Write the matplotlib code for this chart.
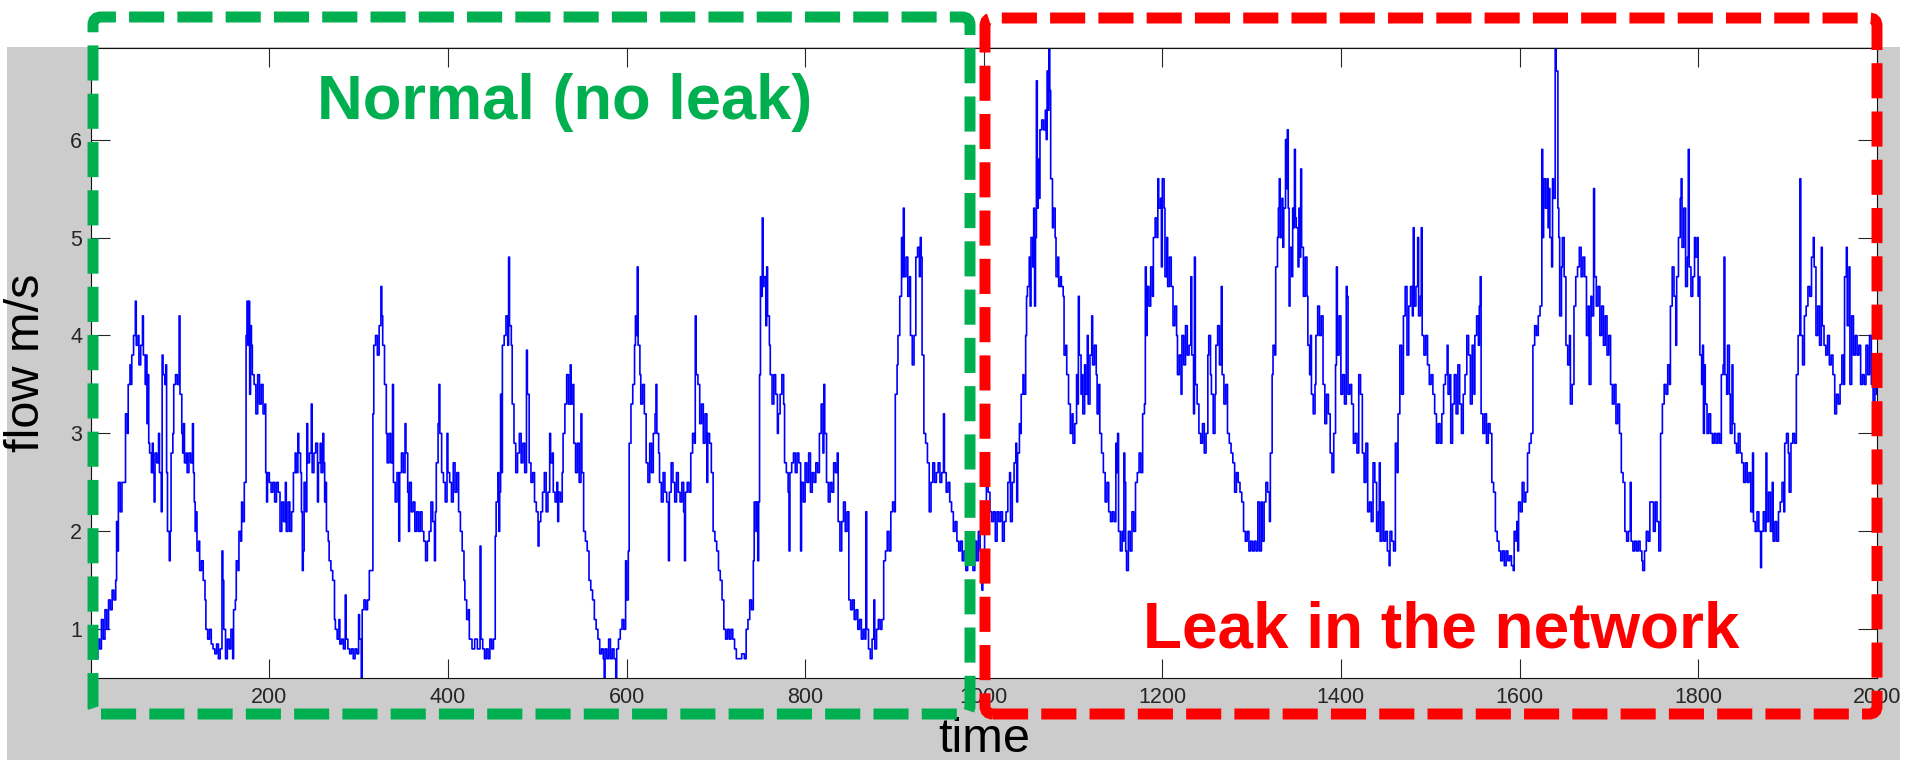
import numpy as np
import matplotlib
matplotlib.use('Agg')
import matplotlib.pyplot as plt
from matplotlib.patches import Rectangle, FancyBboxPatch

# flow readings [time, flow m/s]
normal_flow = [
    [0, 0.8], [3, 1.0], [5, 0.7], [8, 0.9], [10, 0.8], [12, 1.1], [14, 0.9], [16, 1.2], [18, 1.0], [20, 1.3],
    [22, 1.2], [24, 1.4], [26, 1.3], [28, 1.5], [29, 2.1], [30, 1.8], [31, 2.5], [33, 2.2], [35, 2.5], [39, 3.2],
    [41, 3.0], [42, 3.5], [44, 3.7], [45, 3.5], [46, 3.8], [48, 4.0], [50, 4.35], [51, 3.9], [53, 4.0], [54, 3.7],
    [56, 3.9], [58, 4.2], [59, 3.8], [61, 3.5], [62, 3.8], [63, 3.1], [64, 3.6], [65, 2.9], [66, 2.8], [68, 2.6],
    [69, 2.9], [70, 2.6], [71, 2.3], [72, 2.8], [74, 2.7], [76, 3.0], [77, 2.6], [79, 2.2], [80, 3.8], [81, 3.6],
    [83, 3.5], [84, 3.7], [85, 2.6], [86, 2.0], [88, 1.7], [89, 2.0], [90, 2.8], [92, 3.0], [93, 3.5], [95, 3.6],
    [97, 3.5], [99, 4.2], [100, 3.4], [102, 3.0], [103, 2.8], [104, 3.1], [105, 2.7], [107, 2.8], [108, 2.6], [110, 2.8],
    [112, 2.7], [114, 3.1], [115, 2.6], [116, 2.3], [117, 2.0], [118, 2.2], [119, 1.8], [121, 1.9], [122, 1.6], [124, 1.7],
    [126, 1.5], [128, 1.3], [129, 1.0], [131, 0.9], [133, 1.0], [135, 0.85], [137, 0.8], [139, 0.75], [141, 0.85], [143, 0.7],
    [145, 0.8], [147, 1.8], [148, 1.5], [149, 1.0], [151, 0.7], [153, 0.9], [155, 0.8], [157, 1.0], [159, 0.7], [160, 1.2],
    [162, 1.3], [163, 1.7], [165, 1.6], [166, 2.0], [168, 1.9], [169, 2.3], [170, 2.1], [172, 2.5], [174, 4.0], [175, 4.35],
    [176, 3.9], [177, 4.35], [178, 3.4], [179, 4.1], [180, 3.9], [181, 3.6], [183, 3.5], [185, 3.2], [187, 3.6], [189, 3.3],
    [191, 3.5], [193, 3.2], [195, 3.3], [196, 2.6], [197, 2.3], [198, 2.6], [200, 2.5], [202, 2.4], [204, 2.5], [206, 2.3],
    [208, 2.5], [210, 2.4], [212, 2.0], [214, 2.3], [216, 2.1], [218, 2.5], [219, 2.0], [221, 2.3], [223, 2.0], [225, 2.2],
    [227, 2.6], [229, 2.8], [230, 2.6], [232, 3.0], [233, 2.8], [235, 2.6], [236, 2.2], [237, 1.6], [238, 1.8], [239, 2.5],
    [241, 2.2], [242, 3.1], [243, 2.7], [245, 2.8], [247, 3.3], [248, 2.6], [250, 2.8], [252, 2.9], [254, 2.3], [255, 2.7],
    [257, 2.9], [258, 2.6], [260, 3.0], [261, 2.7], [262, 2.3], [263, 2.5], [264, 2.0], [266, 1.9], [267, 1.7], [269, 1.6],
    [271, 1.5], [273, 1.1], [274, 1.0], [276, 0.9], [278, 1.1], [279, 0.85], [281, 0.9], [283, 0.8], [285, 1.35], [286, 0.9],
    [288, 0.8], [290, 0.75], [292, 0.8], [294, 0.7], [296, 0.8], [298, 0.75], [300, 1.15], [301, 0.9], [303, 0.5], [304, 1.2],
    [306, 1.3], [308, 1.2], [310, 1.3], [312, 1.6], [314, 1.6], [316, 3.2], [317, 3.9], [319, 4.0], [321, 3.8], [323, 4.1],
    [325, 4.5], [326, 4.2], [327, 3.9], [329, 3.5], [331, 3.0], [332, 2.7], [334, 3.0], [336, 2.7], [338, 3.5], [339, 2.5],
    [341, 2.3], [343, 2.6], [345, 1.9], [346, 2.6], [348, 2.8], [350, 2.6], [352, 3.1], [353, 2.8], [355, 2.4], [356, 2.0],
    [357, 2.5], [359, 2.2], [361, 2.3], [363, 2.0], [365, 2.2], [367, 2.0], [369, 2.2], [371, 2.0], [373, 1.9], [375, 1.7],
    [377, 1.9], [379, 2.0], [381, 2.3], [383, 2.1], [385, 1.7], [386, 2.2], [387, 2.7], [389, 3.1], [390, 3.5], [391, 3.0],
    [393, 2.6], [395, 2.5], [397, 2.3], [399, 3.0], [400, 2.6], [402, 2.5], [404, 2.3], [406, 2.7], [408, 2.4], [410, 2.6],
    [412, 2.2], [414, 2.0], [416, 1.8], [418, 1.5], [419, 1.3], [421, 1.1], [423, 1.2], [424, 0.9], [427, 0.8], [430, 0.9],
    [433, 0.8], [436, 1.85], [437, 0.9], [439, 0.8], [441, 0.7], [443, 0.8], [445, 0.7], [447, 0.9], [449, 0.8], [451, 0.9],
    [453, 1.95], [454, 2.3], [456, 2.6], [457, 2.0], [458, 2.4], [459, 3.4], [460, 2.6], [461, 3.9], [463, 4.0], [465, 4.2],
    [467, 3.9], [468, 4.8], [469, 4.1], [471, 3.9], [472, 3.3], [474, 2.9], [476, 2.6], [478, 2.8], [480, 3.0], [482, 2.7],
    [484, 2.9], [486, 2.6], [488, 3.85], [489, 3.4], [491, 2.7], [493, 2.5], [495, 2.6], [497, 2.3], [499, 2.2], [501, 1.85],
    [502, 2.1], [504, 2.2], [506, 2.4], [508, 2.6], [510, 2.2], [512, 2.4], [514, 3.0], [515, 2.7], [517, 2.8], [518, 2.4],
    [520, 2.3], [522, 2.5], [523, 2.1], [524, 2.4], [526, 2.3], [528, 2.6], [529, 3.0], [531, 3.3], [533, 3.6], [535, 3.3],
    [537, 3.7], [538, 3.3], [540, 3.5], [541, 2.9], [543, 2.6], [545, 2.9], [547, 2.5], [549, 3.2], [550, 2.6], [552, 2.0],
    [554, 1.9], [556, 1.8], [558, 1.5], [560, 1.4], [562, 1.3], [564, 1.1], [566, 1.0], [568, 0.9], [570, 0.75], [572, 0.8],
    [574, 0.7], [575, 0.5], [576, 0.8], [578, 0.7], [580, 0.9], [582, 0.7], [584, 0.8], [586, 0.7], [588, 0.5], [589, 0.8],
    [591, 0.9], [593, 1.0], [595, 1.1], [597, 1.0], [599, 1.7], [600, 1.3], [602, 1.8], [603, 2.9], [605, 3.3], [607, 3.5],
    [609, 3.9], [610, 4.2], [611, 4.0], [612, 4.7], [613, 3.9], [615, 3.6], [616, 3.3], [618, 3.5], [620, 3.2], [622, 2.7],
    [624, 2.5], [626, 2.9], [628, 2.6], [630, 3.0], [632, 3.2], [633, 3.5], [634, 3.0], [636, 2.8], [637, 2.5], [639, 2.3],
    [641, 2.6], [643, 2.4], [645, 2.3], [647, 1.7], [648, 2.4], [650, 2.7], [652, 2.5], [654, 2.3], [656, 2.6], [658, 2.4],
    [660, 2.3], [662, 2.5], [664, 2.2], [665, 1.7], [666, 2.4], [668, 2.5], [670, 2.4], [672, 2.8], [674, 3.0], [676, 2.9],
    [677, 4.2], [678, 3.6], [680, 3.5], [682, 3.1], [684, 3.3], [686, 2.9], [688, 3.2], [690, 2.5], [691, 3.0], [693, 2.9],
    [695, 2.6], [697, 2.0], [699, 1.9], [701, 1.8], [703, 1.6], [705, 1.5], [707, 1.3], [709, 1.0], [711, 0.9], [713, 1.0],
    [715, 0.9], [717, 1.0], [719, 0.9], [721, 0.8], [723, 0.7], [726, 0.7], [729, 0.75], [732, 0.7], [734, 1.0], [736, 1.1],
    [738, 1.3], [740, 1.2], [742, 1.7], [743, 2.3], [745, 2.0], [746, 2.3], [747, 1.7], [748, 2.3], [749, 3.6], [750, 4.6],
    [751, 4.4], [752, 5.2], [753, 4.5], [754, 4.6], [756, 4.1], [757, 4.7], [758, 4.2], [760, 3.9], [761, 3.6], [763, 3.3],
    [765, 3.6], [767, 3.4], [769, 3.0], [770, 3.2], [772, 3.4], [774, 3.6], [776, 3.3], [777, 2.7], [779, 2.6], [781, 2.4],
    [782, 1.8], [783, 2.6], [785, 2.7], [787, 2.8], [789, 2.6], [791, 2.8], [793, 2.7], [795, 1.8], [796, 2.5], [798, 2.3],
    [800, 2.7], [802, 2.5], [804, 2.8], [806, 2.4], [808, 2.6], [810, 2.5], [812, 2.7], [814, 2.6], [816, 3.0], [818, 3.3],
    [820, 2.8], [821, 3.5], [822, 3.0], [824, 2.5], [826, 2.3], [828, 2.5], [830, 2.4], [832, 2.7], [834, 2.6], [836, 2.8],
    [837, 2.1], [839, 1.8], [841, 2.1], [843, 2.3], [845, 2.0], [847, 2.2], [849, 1.3], [851, 1.2], [853, 1.3], [855, 1.1],
    [857, 1.2], [859, 1.0], [861, 1.1], [863, 0.9], [865, 1.0], [867, 0.9], [868, 2.2], [869, 1.0], [871, 0.8], [873, 0.7],
    [875, 0.9], [877, 1.3], [878, 0.8], [880, 1.0], [882, 1.1], [884, 1.0], [886, 1.1], [888, 1.7], [890, 1.8], [892, 2.0],
    [894, 1.8], [896, 2.2], [898, 2.3], [900, 2.2], [901, 3.4], [903, 3.7], [904, 4.0], [906, 4.4], [908, 5.0], [909, 4.6],
    [910, 5.3], [911, 4.6], [913, 4.8], [915, 4.4], [917, 4.6], [918, 4.0], [920, 3.7], [922, 4.0], [924, 4.8], [926, 4.9],
    [928, 4.6], [929, 5.0], [930, 4.8], [931, 3.8], [933, 3.0], [935, 2.9], [937, 2.7], [939, 2.2], [941, 2.5], [943, 2.7],
    [945, 2.5], [947, 2.6], [949, 2.7], [951, 2.5], [953, 2.6], [955, 3.2], [956, 2.6], [958, 2.4], [960, 2.5], [962, 2.3],
    [964, 2.2], [966, 2.0], [968, 2.1], [970, 1.9], [972, 1.8], [974, 1.9], [976, 1.7], [978, 1.8], [980, 1.6], [982, 1.7],
    [984, 1.9], [986, 1.8], [988, 1.6], [990, 1.9], [992, 1.7], [994, 2.0], [996, 1.8], [998, 1.4], [999, 1.8],
]

leak_flow = [
    [1001, 2.3], [1003, 2.6], [1005, 2.4], [1007, 2.2], [1009, 2.1], [1011, 2.2], [1013, 1.9], [1015, 2.2], [1017, 2.1], [1019, 2.2],
    [1021, 1.9], [1023, 2.1], [1025, 2.2], [1027, 2.5], [1029, 2.6], [1030, 2.1], [1032, 2.5], [1034, 2.7], [1036, 2.9], [1037, 2.3],
    [1038, 2.8], [1040, 3.1], [1041, 3.0], [1042, 3.4], [1044, 3.6], [1045, 3.4], [1047, 4.0], [1048, 4.4], [1049, 4.5], [1051, 4.8],
    [1052, 4.3], [1053, 5.0], [1055, 4.7], [1056, 5.3], [1057, 4.3], [1058, 5.0], [1059, 6.6], [1060, 5.3], [1061, 5.8], [1062, 5.4],
    [1063, 6.1], [1065, 6.2], [1067, 6.1], [1069, 6.3], [1070, 6.0], [1071, 6.7], [1072, 6.3], [1073, 6.93], [1074, 6.5], [1075, 5.6],
    [1077, 5.1], [1078, 5.3], [1080, 5.0], [1081, 4.6], [1083, 4.8], [1084, 4.5], [1086, 4.6], [1087, 4.5], [1089, 4.4], [1090, 3.8],
    [1092, 3.9], [1093, 3.6], [1095, 3.3], [1097, 3.0], [1099, 3.2], [1100, 2.9], [1102, 3.1], [1104, 3.6], [1105, 3.3], [1106, 4.4],
    [1107, 3.8], [1109, 3.4], [1110, 3.6], [1111, 3.2], [1113, 3.7], [1114, 3.4], [1116, 4.0], [1117, 3.3], [1119, 3.8], [1121, 4.2],
    [1122, 3.7], [1124, 3.9], [1126, 3.6], [1127, 3.2], [1129, 3.5], [1130, 3.0], [1132, 2.8], [1134, 2.6], [1136, 2.3], [1138, 2.5],
    [1140, 2.2], [1142, 2.1], [1144, 2.2], [1146, 2.1], [1148, 2.9], [1149, 2.6], [1150, 3.0], [1151, 2.0], [1153, 1.8], [1155, 2.0],
    [1156, 1.9], [1157, 2.8], [1158, 2.5], [1159, 1.8], [1160, 1.6], [1162, 2.0], [1164, 1.8], [1166, 2.2], [1168, 2.0], [1170, 2.5],
    [1172, 2.6], [1174, 2.8], [1176, 2.6], [1178, 3.2], [1180, 3.3], [1181, 4.7], [1182, 4.0], [1183, 4.5], [1185, 4.3], [1187, 4.7],
    [1189, 4.4], [1190, 5.0], [1192, 5.2], [1194, 5.0], [1195, 5.6], [1196, 5.3], [1198, 5.4], [1199, 4.7], [1200, 5.6], [1202, 5.3],
    [1203, 4.6], [1205, 5.0], [1206, 4.5], [1208, 4.8], [1210, 4.5], [1212, 4.1], [1214, 4.3], [1216, 4.0], [1217, 3.6], [1219, 3.8],
    [1221, 3.4], [1222, 4.0], [1224, 3.7], [1226, 4.1], [1228, 3.8], [1230, 3.9], [1232, 4.6], [1233, 3.8], [1235, 3.2], [1236, 4.8],
    [1237, 3.5], [1239, 3.3], [1241, 3.0], [1243, 2.9], [1245, 3.1], [1247, 2.8], [1249, 3.0], [1251, 3.8], [1252, 4.0], [1254, 3.6],
    [1255, 3.4], [1257, 3.0], [1259, 3.4], [1260, 3.9], [1262, 4.1], [1264, 3.7], [1266, 4.5], [1267, 3.6], [1269, 3.3], [1271, 3.5],
    [1273, 3.0], [1275, 2.9], [1277, 2.8], [1279, 2.7], [1281, 2.4], [1283, 2.6], [1285, 2.5], [1287, 2.4], [1289, 2.3], [1291, 2.0],
    [1293, 1.9], [1295, 2.0], [1297, 1.8], [1299, 1.9], [1301, 1.8], [1303, 1.9], [1305, 1.8], [1307, 2.3], [1309, 1.8], [1311, 2.3],
    [1312, 1.9], [1314, 2.3], [1316, 2.5], [1318, 2.4], [1320, 2.1], [1321, 2.8], [1323, 3.6], [1324, 3.9], [1326, 3.8], [1327, 4.7],
    [1329, 5.0], [1330, 5.3], [1331, 5.6], [1332, 5.0], [1334, 5.4], [1335, 4.9], [1336, 5.3], [1338, 6.0], [1339, 5.5], [1340, 6.1],
    [1341, 5.3], [1342, 4.3], [1343, 4.9], [1345, 4.6], [1346, 5.3], [1347, 5.1], [1348, 5.9], [1349, 5.2], [1350, 5.1], [1352, 4.7],
    [1353, 5.3], [1354, 4.8], [1355, 5.7], [1356, 4.9], [1358, 4.4], [1360, 4.8], [1362, 4.4], [1363, 3.9], [1365, 3.6], [1366, 4.0],
    [1367, 3.4], [1369, 3.2], [1371, 3.5], [1372, 4.0], [1374, 4.3], [1376, 4.0], [1378, 4.2], [1380, 3.5], [1382, 3.1], [1384, 3.4],
    [1386, 3.2], [1388, 2.8], [1390, 2.6], [1392, 3.0], [1394, 3.7], [1395, 4.7], [1396, 3.8], [1398, 4.2], [1400, 3.4], [1402, 3.6],
    [1404, 3.3], [1406, 4.5], [1407, 4.4], [1408, 3.4], [1410, 3.5], [1412, 3.3], [1414, 2.9], [1416, 3.0], [1418, 2.8], [1420, 3.6],
    [1422, 3.4], [1424, 2.8], [1426, 2.5], [1428, 2.9], [1430, 2.2], [1432, 2.3], [1434, 2.1], [1436, 2.7], [1438, 2.5], [1440, 2.0],
    [1442, 2.2], [1443, 2.7], [1444, 1.9], [1446, 2.3], [1448, 1.9], [1450, 2.0], [1452, 1.8], [1454, 1.65], [1455, 2.0], [1457, 1.9],
    [1459, 1.8], [1461, 2.9], [1463, 2.6], [1464, 3.2], [1466, 3.9], [1468, 3.4], [1470, 4.2], [1472, 4.5], [1474, 3.8], [1476, 4.3],
    [1478, 4.5], [1480, 4.2], [1481, 5.1], [1482, 4.3], [1484, 4.5], [1486, 5.0], [1487, 4.2], [1489, 4.4], [1490, 5.1], [1491, 4.0],
    [1493, 3.8], [1495, 4.0], [1497, 3.7], [1499, 3.5], [1501, 3.6], [1503, 3.4], [1505, 3.2], [1507, 2.9], [1509, 3.1], [1511, 2.9],
    [1513, 3.2], [1515, 3.5], [1517, 3.6], [1519, 3.9], [1520, 3.4], [1522, 3.6], [1523, 2.9], [1525, 3.3], [1527, 3.6], [1529, 3.2],
    [1531, 3.7], [1533, 3.3], [1535, 3.0], [1537, 3.4], [1539, 3.6], [1541, 4.0], [1543, 3.8], [1545, 3.3], [1547, 3.9], [1549, 3.4],
    [1550, 4.0], [1552, 4.2], [1554, 3.9], [1555, 4.3], [1556, 4.6], [1557, 3.2], [1559, 3.0], [1561, 3.2], [1563, 2.9], [1565, 3.1],
    [1567, 3.0], [1569, 2.5], [1571, 2.4], [1573, 2.0], [1575, 1.9], [1577, 1.8], [1579, 1.7], [1581, 1.8], [1583, 1.65], [1585, 1.8],
    [1587, 1.7], [1589, 1.75], [1591, 1.65], [1593, 1.6], [1594, 2.0], [1596, 1.9], [1597, 2.1], [1598, 1.8], [1599, 2.3], [1601, 2.2],
    [1603, 2.5], [1605, 2.3], [1607, 2.4], [1609, 2.8], [1611, 2.9], [1613, 3.0], [1615, 3.9], [1617, 4.1], [1619, 4.0], [1621, 4.2],
    [1623, 4.3], [1625, 5.9], [1626, 5.0], [1627, 5.6], [1629, 5.3], [1631, 5.6], [1632, 5.1], [1633, 5.5], [1634, 5.0], [1636, 4.7],
    [1637, 5.6], [1638, 5.4], [1640, 6.93], [1641, 6.7], [1643, 5.3], [1644, 5.0], [1645, 4.2], [1647, 4.7], [1648, 5.0], [1650, 4.6],
    [1652, 3.9], [1654, 3.7], [1656, 4.0], [1657, 3.3], [1659, 3.5], [1661, 4.3], [1663, 4.6], [1665, 4.7], [1667, 4.9], [1669, 4.6],
    [1671, 4.8], [1673, 4.6], [1675, 4.0], [1677, 4.3], [1678, 3.5], [1680, 4.4], [1681, 4.2], [1683, 5.5], [1684, 4.6], [1686, 4.3],
    [1688, 4.5], [1690, 4.0], [1692, 4.3], [1694, 3.9], [1696, 4.2], [1698, 3.8], [1700, 4.0], [1702, 3.5], [1704, 3.3], [1706, 3.5],
    [1708, 3.1], [1710, 3.3], [1712, 3.0], [1714, 2.6], [1716, 2.5], [1718, 2.0], [1720, 1.9], [1722, 2.0], [1724, 2.5], [1725, 1.9],
    [1727, 1.8], [1729, 1.9], [1731, 1.8], [1733, 1.9], [1735, 1.8], [1737, 1.7], [1738, 1.6], [1740, 1.8], [1742, 2.0], [1744, 1.9],
    [1746, 2.3], [1748, 2.3], [1750, 2.0], [1752, 2.3], [1754, 2.1], [1756, 1.8], [1758, 3.0], [1760, 3.3], [1762, 3.5], [1764, 3.4],
    [1766, 3.7], [1768, 3.5], [1769, 4.3], [1771, 4.7], [1773, 4.4], [1775, 3.9], [1776, 4.6], [1778, 5.0], [1780, 5.4], [1781, 5.6],
    [1782, 4.9], [1784, 5.3], [1786, 4.5], [1788, 4.8], [1789, 5.9], [1790, 4.7], [1792, 4.4], [1794, 4.6], [1796, 5.0], [1797, 4.8],
    [1799, 5.0], [1800, 4.4], [1801, 4.6], [1802, 3.8], [1804, 3.5], [1805, 3.9], [1806, 3.0], [1807, 3.7], [1808, 3.3], [1810, 3.0],
    [1812, 3.2], [1814, 3.0], [1816, 2.9], [1818, 3.0], [1820, 2.9], [1822, 3.0], [1824, 2.9], [1826, 3.6], [1828, 3.7], [1829, 4.8],
    [1830, 3.6], [1832, 3.4], [1833, 3.9], [1835, 3.4], [1836, 3.0], [1838, 3.7], [1839, 3.1], [1841, 2.9], [1843, 2.8], [1845, 3.0],
    [1847, 2.8], [1849, 2.7], [1851, 2.5], [1853, 2.7], [1855, 2.5], [1857, 2.6], [1859, 2.2], [1861, 2.8], [1862, 2.1], [1864, 2.0],
    [1866, 2.2], [1868, 2.0], [1870, 1.63], [1871, 2.0], [1873, 2.2], [1875, 2.0], [1876, 2.8], [1877, 2.1], [1879, 2.4], [1881, 2.0],
    [1883, 2.5], [1884, 1.9], [1886, 2.1], [1888, 1.9], [1890, 2.2], [1892, 2.3], [1894, 2.5], [1896, 2.2], [1897, 2.9], [1899, 3.0],
    [1901, 2.8], [1902, 2.4], [1904, 2.9], [1906, 3.0], [1908, 2.9], [1910, 3.6], [1912, 4.0], [1914, 5.6], [1915, 4.0], [1917, 3.7],
    [1919, 4.2], [1921, 4.3], [1923, 4.5], [1925, 4.4], [1927, 4.8], [1929, 5.0], [1930, 4.7], [1932, 4.0], [1934, 4.3], [1936, 3.9],
    [1938, 4.9], [1939, 4.1], [1941, 3.9], [1943, 3.8], [1945, 4.0], [1947, 3.7], [1949, 3.8], [1951, 3.6], [1953, 3.2], [1955, 3.4],
    [1957, 3.3], [1959, 3.5], [1961, 3.8], [1963, 3.5], [1964, 4.6], [1966, 4.9], [1967, 4.1], [1969, 4.7], [1970, 3.5], [1972, 4.2],
    [1974, 3.8], [1976, 4.0], [1978, 3.8], [1980, 3.9], [1982, 3.5], [1984, 3.6], [1986, 3.5], [1988, 3.9], [1990, 3.6], [1992, 4.0],
    [1994, 3.5], [1996, 3.3], [1998, 3.5], [2000, 3.4],
]

xtick_vals = list(range(200, 2001, 200))
ytick_vals = [1, 2, 3, 4, 5, 6]

plt.rcParams['font.family'] = ['Liberation Sans', 'DejaVu Sans']

W, H = 1905, 760
fig = plt.figure(figsize=(W / 100, H / 100), dpi=100)
fig.patch.set_facecolor('white')

def px_box(x0, y0, x1, y1):
    # pixel box (top-left origin) -> inches for dpi_scale_trans
    return (x0 / 100, (H - y1) / 100), (x1 - x0) / 100, (y1 - y0) / 100

# matlab grey figure area
xy, w, h = px_box(7, 47, 1900, 760)
fig.add_artist(Rectangle(xy, w, h, transform=fig.dpi_scale_trans,
                         facecolor='#cccccc', edgecolor='none', zorder=-10))

ax = fig.add_axes([90.7 / W, (H - 678.3) / H, 1786 / W, 630.8 / H])
ax.set_facecolor('white')

data = np.array(normal_flow + leak_flow)
ax.step(data[:, 0], data[:, 1], where='post', color='#0000ff', lw=1.2)

ax.set_xlim(0, 2000)
ax.set_ylim(0.5, 6.94)
ax.set_xticks(xtick_vals)
ax.set_yticks(ytick_vals)
ax.tick_params(direction='in', length=13.4, width=0.8, color='#262626',
               labelsize=15.5, labelcolor='#262626', top=True, right=True, pad=6)
for s in ax.spines.values():
    s.set_linewidth(0.8)
    s.set_color('#111111')

fig.text(984 / W, (H - 752) / H, 'time', fontsize=35, ha='center', va='baseline')
fig.text(27 / W, (H - 363) / H, 'flow m/s', fontsize=35, rotation=90, ha='center', va='center')

# annotation boxes
for (x0, y0, x1, y1), col in [((93, 17, 970, 714), '#00b050'), ((985, 18, 1877, 714), '#ff0000')]:
    xy, w, h = px_box(x0, y0, x1, y1)
    fig.add_artist(FancyBboxPatch(xy, w, h, boxstyle='round,pad=0,rounding_size=0.08',
                                  transform=fig.dpi_scale_trans, fill=False, edgecolor=col,
                                  lw=7.9, linestyle=(0, (3.2, 1.2)), zorder=5))

fig.text(317 / W, (H - 119.5) / H, 'Normal (no leak)', color='#00b050', fontsize=45.5,
         fontweight='bold', ha='left', va='baseline', zorder=6)
fig.text(1142.7 / W, (H - 647.6) / H, 'Leak in the network', color='#ff0000', fontsize=46,
         fontweight='bold', ha='left', va='baseline', zorder=6)

fig.savefig('out.png', dpi=100, facecolor=fig.get_facecolor())
